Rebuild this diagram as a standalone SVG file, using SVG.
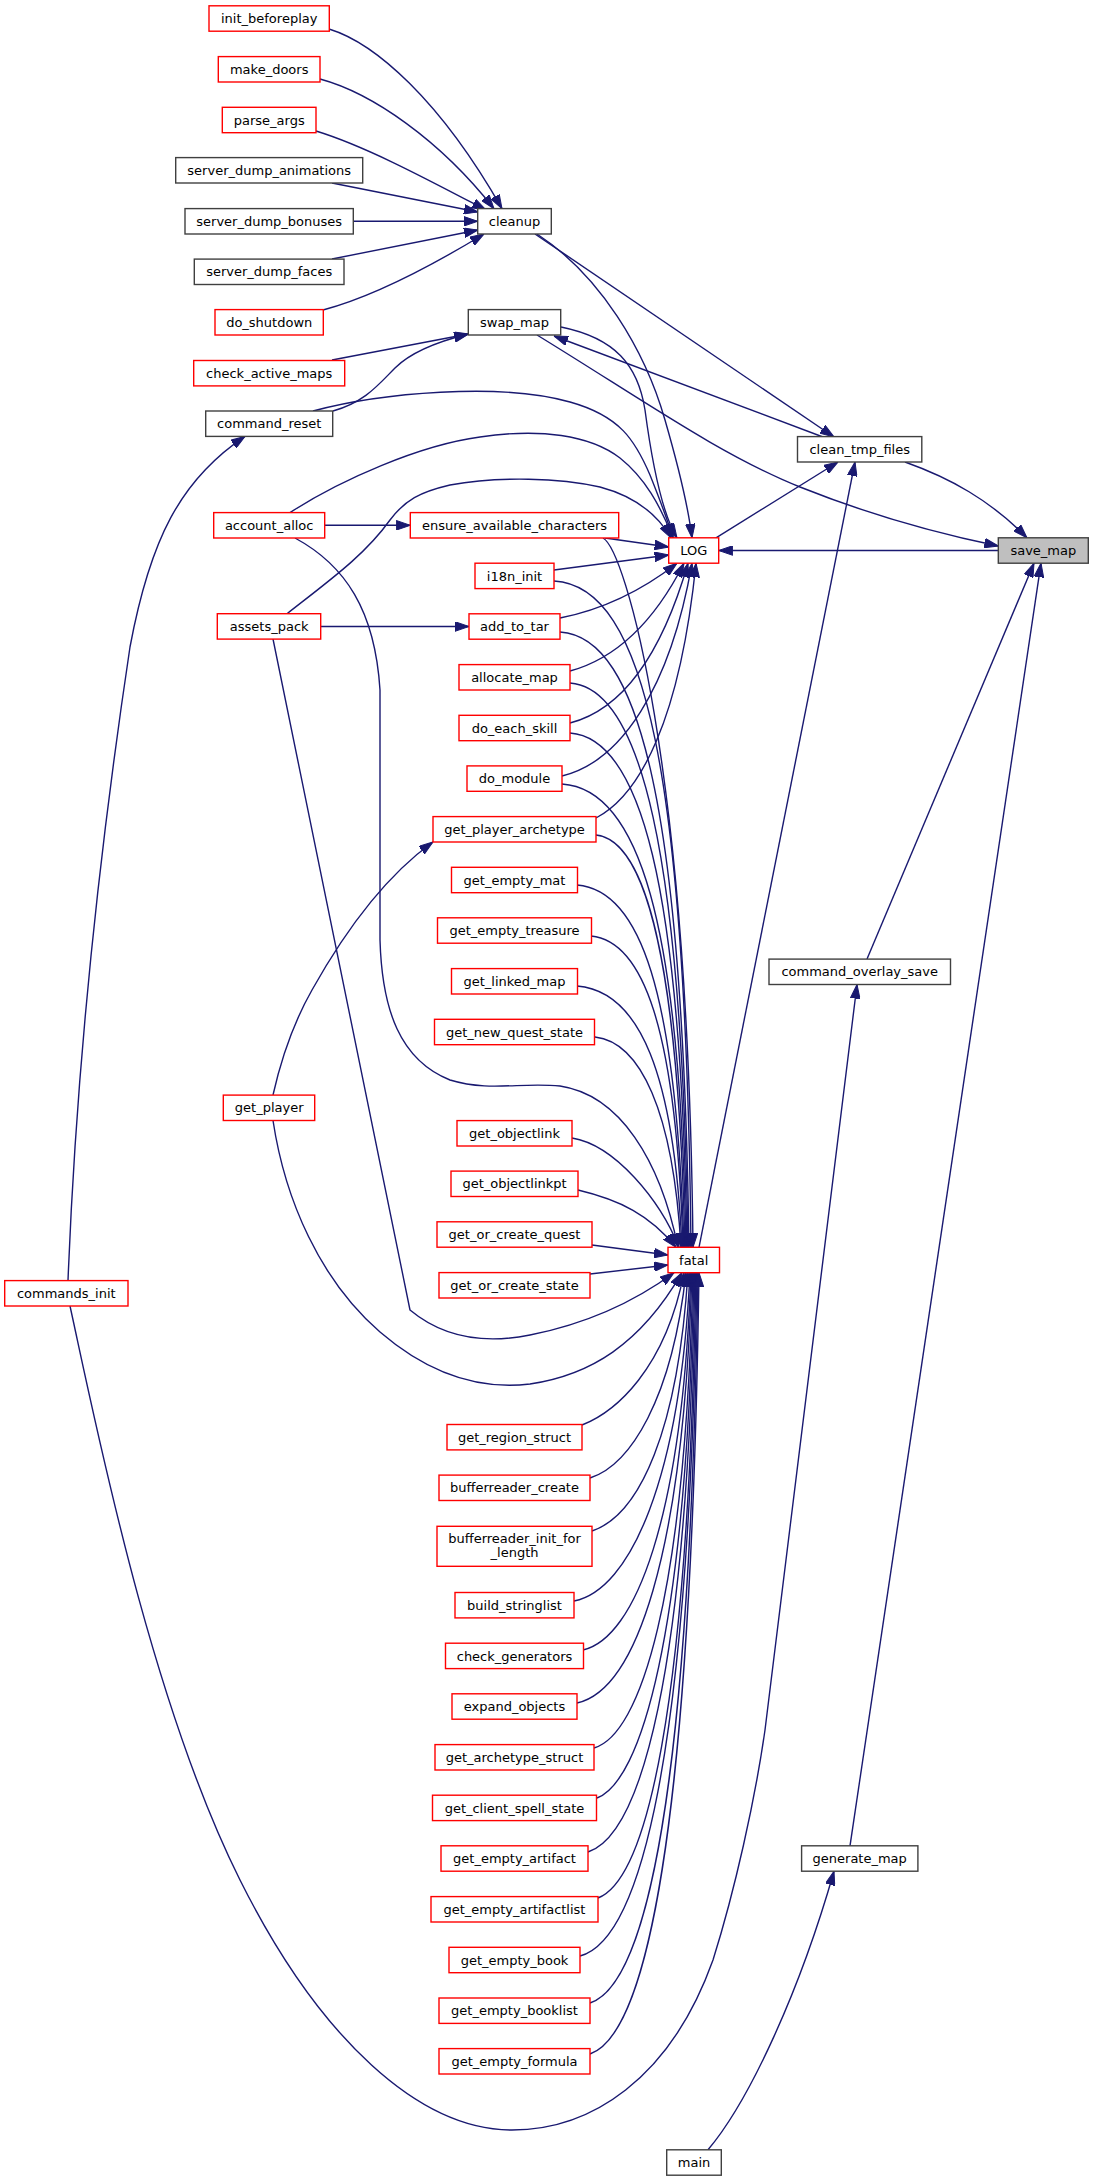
<svg xmlns="http://www.w3.org/2000/svg" width="1093" height="2181" viewBox="0 0 1093 2181">
<style>
.nr rect{fill:#ffffff;stroke:#ff0000;stroke-width:1.4}
.nb rect{fill:#ffffff;stroke:#404040;stroke-width:1.4}
.nf rect{fill:#bfbfbf;stroke:#404040;stroke-width:1.4}
text{font-family:"DejaVu Sans","Liberation Sans",sans-serif;font-size:13px;fill:#000000;text-anchor:middle}
#edges path{fill:none;stroke:#191970;stroke-width:1.4;marker-end:url(#ah)}
</style>
<defs>
<marker id="ah" markerUnits="userSpaceOnUse" viewBox="0 0 14 10" refX="14" refY="5" markerWidth="14" markerHeight="10" orient="auto">
<path d="M0,0.2 L14,5 L0,9.8 z" fill="#191970" stroke="#191970" stroke-width="1"/>
</marker>
</defs>
<rect x="0" y="0" width="1093" height="2181" fill="#ffffff"/>
<g id="edges">
<path d="M329,29 C375,43 440,100 502,208.7"/>
<path d="M320,79 C372,93 440,140 494,208.7"/>
<path d="M316,131 C365,146 425,178 486,210"/>
<path d="M332,183 L478,212"/>
<path d="M353.3,221.3 L477.7,221.3"/>
<path d="M332,259 L478,230"/>
<path d="M323,310 C372,297 428,268 484,234"/>
<path d="M332,360 L468.3,334"/>
<path d="M333,411 C365,402 378,385 395,368 C412,351 440,341 468.3,334"/>
<path d="M313,411 C380,393 500,382 570,402 C620,416 635,440 650,475 C660,500 667,518 673,538"/>
<path d="M68,1280.6 C75,1100 95,880 130,647 C150,540 180,480 245,436.4"/>
<path d="M537,234 C600,275 645,350 665,420 C678,465 688,505 692,537.9"/>
<path d="M535,234 L834,437"/>
<path d="M561,327 C615,338 638,365 645,410 C651,455 660,510 677,538"/>
<path d="M537,335 C640,398 720,455 800,487 C870,515 930,532 998.3,546"/>
<path d="M823,437 L554,336"/>
<path d="M905,462 C950,478 990,500 1027,537.8"/>
<path d="M716,537.8 L838,462"/>
<path d="M998.3,550.5 L718.7,550.5"/>
<path d="M699,1247.3 L855,462"/>
<path d="M867,959 L1034,563.2"/>
<path d="M850,1845.8 L1041,563.2"/>
<path d="M708,2149.8 C750,2100 800,1990 834,1871.2"/>
<path d="M70,1306 C95,1420 150,1700 240,1880 C320,2040 420,2130 512,2130 C590,2130 670,2080 713,1960 C735,1890 755,1800 765,1730 L857,984.5"/>
<path d="M324.7,525.3 L410.3,525.3"/>
<path d="M320.7,626.5 L469,626.5"/>
<path d="M273,1095 C282,1055 295,1020 312,990 C340,940 380,880 433,842"/>
<path d="M273,1120.5 C285,1200 320,1280 380,1332 C430,1375 480,1390 530,1384 C590,1375 640,1345 682,1272.7"/>
<path d="M273,639 L410,1310 C440,1335 480,1345 530,1335 C580,1325 630,1305 674,1272.7"/>
<path d="M295,538 C345,565 375,610 380,690 L380,940 C382,1010 400,1060 450,1080 C490,1092 520,1082 560,1086 C620,1095 660,1160 678,1247.3"/>
<path d="M290,512.6 C340,480 420,445 480,437 C540,428 590,435 620,458 C645,478 660,505 673,537.8"/>
<path d="M287,613.7 C330,580 365,555 390,520 C405,500 420,492 450,485 C500,476 560,478 600,487 C630,495 655,510 671,537.8"/>
<path d="M605,538 L668.7,547"/>
<path d="M554,570 L668.7,555"/>
<path d="M560,618 C600,610 640,592 677,563.2"/>
<path d="M570,671 C610,660 650,630 684,563.2"/>
<path d="M570,723 C620,710 660,660 688,563.2"/>
<path d="M562,776 C620,762 670,690 692,563.2"/>
<path d="M596,818 C640,795 680,720 696,563.2"/>
<path d="M603,538 C625,550 688,760 693,1247.3"/>
<path d="M554,581 C646,586 686,777 691,1247.3"/>
<path d="M560,632 C640,637 683,810 689,1247.3"/>
<path d="M570,683 C640,688 682,847 688,1247.3"/>
<path d="M570,733 C640,738 681,882 687,1247.3"/>
<path d="M562,784 C638,789 680,918 686,1247.3"/>
<path d="M596,835 C645,840 678,955 685,1247.3"/>
<path d="M577,885 C640,890 676,990 684,1247.3"/>
<path d="M591,936 C642,941 676,1024 683,1247.3"/>
<path d="M577,986 C640,991 674,1074 682,1247.3"/>
<path d="M595,1037 C640,1042 673,1110 681,1247.3"/>
<path d="M572,1138 C615,1145 660,1200 679,1247.3"/>
<path d="M578,1190 C620,1200 650,1215 676,1247.3"/>
<path d="M592,1245 L668,1255"/>
<path d="M590,1274 L668,1265"/>
<path d="M582,1425 C615,1412 665,1370 684,1272.7"/>
<path d="M590,1478 C630,1465 672,1400 686,1272.7"/>
<path d="M592,1531 C640,1515 678,1430 688,1272.7"/>
<path d="M574,1601 C630,1590 680,1480 690,1272.7"/>
<path d="M583,1650 C635,1638 682,1520 691,1272.7"/>
<path d="M577,1703 C635,1690 683,1560 692,1272.7"/>
<path d="M594,1748 C640,1735 685,1600 693,1272.7"/>
<path d="M597,1798 C640,1782 686,1640 694,1272.7"/>
<path d="M588,1852 C640,1835 687,1680 695,1272.7"/>
<path d="M598,1898 C645,1880 688,1720 696,1272.7"/>
<path d="M580,1956 C640,1940 689,1760 697,1272.7"/>
<path d="M590,2003 C645,1985 690,1800 698,1272.7"/>
<path d="M590,2054 C645,2035 691,1840 699,1272.7"/>
</g>
<g id="init_beforeplay" class="nr"><rect x="209" y="5.8" width="120.3" height="25.4"/><text x="269.2" y="23.1">init_beforeplay</text></g>
<g id="make_doors" class="nr"><rect x="218.3" y="56.6" width="101.7" height="25.4"/><text x="269.2" y="73.9">make_doors</text></g>
<g id="parse_args" class="nr"><rect x="222.3" y="107.3" width="93.7" height="25.4"/><text x="269.2" y="124.6">parse_args</text></g>
<g id="server_dump_animations" class="nb"><rect x="175.7" y="157.6" width="187" height="25.4"/><text x="269.2" y="174.9">server_dump_animations</text></g>
<g id="server_dump_bonuses" class="nb"><rect x="185" y="208.6" width="168.3" height="25.4"/><text x="269.2" y="225.9">server_dump_bonuses</text></g>
<g id="server_dump_faces" class="nb"><rect x="194.3" y="259.1" width="149.7" height="25.4"/><text x="269.2" y="276.4">server_dump_faces</text></g>
<g id="do_shutdown" class="nr"><rect x="215" y="309.6" width="108.3" height="25.4"/><text x="269.2" y="326.9">do_shutdown</text></g>
<g id="check_active_maps" class="nr"><rect x="193.7" y="360.5" width="151" height="25.4"/><text x="269.2" y="377.8">check_active_maps</text></g>
<g id="command_reset" class="nb"><rect x="205.7" y="411" width="127" height="25.4"/><text x="269.2" y="428.3">command_reset</text></g>
<g id="account_alloc" class="nr"><rect x="213.7" y="512.6" width="111" height="25.4"/><text x="269.2" y="529.9">account_alloc</text></g>
<g id="assets_pack" class="nr"><rect x="217.3" y="613.7" width="103.4" height="25.4"/><text x="269.2" y="631">assets_pack</text></g>
<g id="get_player" class="nr"><rect x="223.3" y="1095.1" width="91.4" height="25.4"/><text x="269.2" y="1112.4">get_player</text></g>
<g id="commands_init" class="nr"><rect x="4.7" y="1280.6" width="123.3" height="25.4"/><text x="66.3" y="1297.9">commands_init</text></g>
<g id="cleanup" class="nb"><rect x="477.7" y="208.6" width="73.6" height="25.4"/><text x="514.5" y="225.9">cleanup</text></g>
<g id="swap_map" class="nb"><rect x="468.3" y="309.6" width="92.4" height="25.4"/><text x="514.5" y="326.9">swap_map</text></g>
<g id="ensure_available_characters" class="nr"><rect x="410.3" y="512.6" width="208.4" height="25.4"/><text x="514.5" y="529.9">ensure_available_characters</text></g>
<g id="i18n_init" class="nr"><rect x="475" y="563.2" width="79" height="25.4"/><text x="514.5" y="580.5">i18n_init</text></g>
<g id="add_to_tar" class="nr"><rect x="469" y="613.8" width="91" height="25.4"/><text x="514.5" y="631.1">add_to_tar</text></g>
<g id="allocate_map" class="nr"><rect x="459" y="664.6" width="111" height="25.4"/><text x="514.5" y="681.9">allocate_map</text></g>
<g id="do_each_skill" class="nr"><rect x="459" y="715.3" width="111" height="25.4"/><text x="514.5" y="732.6">do_each_skill</text></g>
<g id="do_module" class="nr"><rect x="467" y="765.9" width="95" height="25.4"/><text x="514.5" y="783.2">do_module</text></g>
<g id="get_player_archetype" class="nr"><rect x="433" y="816.6" width="163" height="25.4"/><text x="514.5" y="833.9">get_player_archetype</text></g>
<g id="get_empty_mat" class="nr"><rect x="451.5" y="867.3" width="126" height="25.4"/><text x="514.5" y="884.6">get_empty_mat</text></g>
<g id="get_empty_treasure" class="nr"><rect x="437.5" y="917.8" width="154" height="25.4"/><text x="514.5" y="935.1">get_empty_treasure</text></g>
<g id="get_linked_map" class="nr"><rect x="451.5" y="968.6" width="126" height="25.4"/><text x="514.5" y="985.9">get_linked_map</text></g>
<g id="get_new_quest_state" class="nr"><rect x="434.5" y="1019.3" width="160" height="25.4"/><text x="514.5" y="1036.6">get_new_quest_state</text></g>
<g id="get_objectlink" class="nr"><rect x="457" y="1120.6" width="115" height="25.4"/><text x="514.5" y="1137.9">get_objectlink</text></g>
<g id="get_objectlinkpt" class="nr"><rect x="451" y="1171.1" width="127" height="25.4"/><text x="514.5" y="1188.4">get_objectlinkpt</text></g>
<g id="get_or_create_quest" class="nr"><rect x="437" y="1221.8" width="155" height="25.4"/><text x="514.5" y="1239.1">get_or_create_quest</text></g>
<g id="get_or_create_state" class="nr"><rect x="439" y="1272.6" width="151" height="25.4"/><text x="514.5" y="1289.9">get_or_create_state</text></g>
<g id="get_region_struct" class="nr"><rect x="447" y="1424.5" width="135" height="25.4"/><text x="514.5" y="1441.8">get_region_struct</text></g>
<g id="bufferreader_create" class="nr"><rect x="439" y="1475.1" width="151" height="25.4"/><text x="514.5" y="1492.4">bufferreader_create</text></g>
<g id="bufferreader_init_for_length" class="nr"><rect x="437" y="1526.3" width="155" height="40"/><text x="514.5" y="1543.3">bufferreader_init_for</text><text x="514.5" y="1557.3">_length</text></g>
<g id="build_stringlist" class="nr"><rect x="455" y="1592.5" width="119" height="25.4"/><text x="514.5" y="1609.8">build_stringlist</text></g>
<g id="check_generators" class="nr"><rect x="445.5" y="1643.2" width="138" height="25.4"/><text x="514.5" y="1660.5">check_generators</text></g>
<g id="expand_objects" class="nr"><rect x="452" y="1693.8" width="125" height="25.4"/><text x="514.5" y="1711.1">expand_objects</text></g>
<g id="get_archetype_struct" class="nr"><rect x="435" y="1744.6" width="159" height="25.4"/><text x="514.5" y="1761.9">get_archetype_struct</text></g>
<g id="get_client_spell_state" class="nr"><rect x="432.5" y="1795.2" width="164" height="25.4"/><text x="514.5" y="1812.5">get_client_spell_state</text></g>
<g id="get_empty_artifact" class="nr"><rect x="441" y="1845.8" width="147" height="25.4"/><text x="514.5" y="1863.1">get_empty_artifact</text></g>
<g id="get_empty_artifactlist" class="nr"><rect x="431" y="1896.6" width="167" height="25.4"/><text x="514.5" y="1913.9">get_empty_artifactlist</text></g>
<g id="get_empty_book" class="nr"><rect x="449" y="1947.3" width="131" height="25.4"/><text x="514.5" y="1964.6">get_empty_book</text></g>
<g id="get_empty_booklist" class="nr"><rect x="439" y="1998" width="151" height="25.4"/><text x="514.5" y="2015.3">get_empty_booklist</text></g>
<g id="get_empty_formula" class="nr"><rect x="439" y="2048.6" width="151" height="25.4"/><text x="514.5" y="2065.9">get_empty_formula</text></g>
<g id="LOG" class="nr"><rect x="668.7" y="537.8" width="50" height="25.4"/><text x="693.7" y="555.1">LOG</text></g>
<g id="fatal" class="nr"><rect x="668" y="1247.3" width="51.5" height="25.4"/><text x="693.7" y="1264.6">fatal</text></g>
<g id="main" class="nb"><rect x="666.7" y="2149.8" width="54.6" height="25.4"/><text x="694" y="2167.1">main</text></g>
<g id="clean_tmp_files" class="nb"><rect x="797.5" y="436.6" width="124.3" height="25.4"/><text x="859.7" y="453.9">clean_tmp_files</text></g>
<g id="command_overlay_save" class="nb"><rect x="769" y="959.1" width="181.5" height="25.4"/><text x="859.7" y="976.4">command_overlay_save</text></g>
<g id="generate_map" class="nb"><rect x="801.6" y="1845.8" width="116.3" height="25.4"/><text x="859.7" y="1863.1">generate_map</text></g>
<g id="save_map" class="nf"><rect x="998.3" y="537.8" width="90" height="25.4"/><text x="1043.3" y="555.1">save_map</text></g>
</svg>
